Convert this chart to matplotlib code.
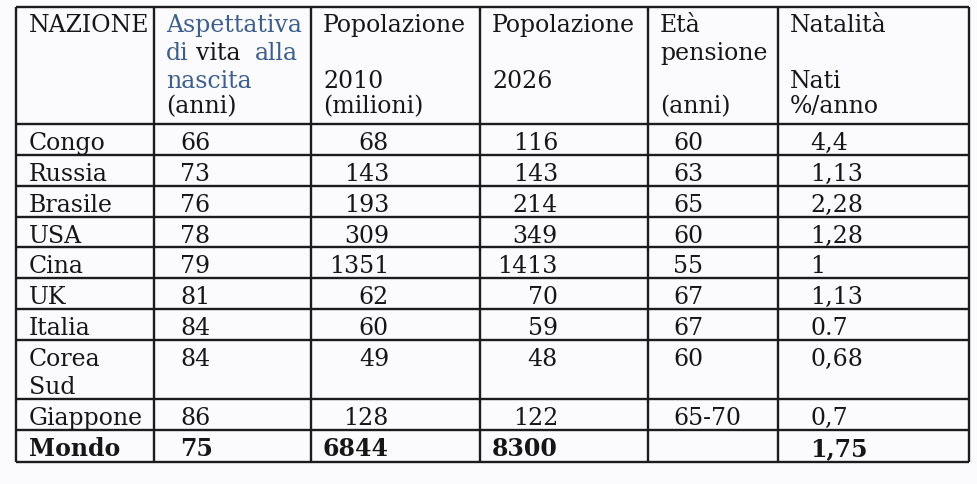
import matplotlib
matplotlib.use("Agg")
from matplotlib import pyplot as plt

# table data
nazioni = ["Congo", "Russia", "Brasile", "USA", "Cina", "UK", "Italia",
           "Corea\nSud", "Giappone", "Mondo"]
aspettativa = [66, 73, 76, 78, 79, 81, 84, 84, 86, 75]
pop_2010 = [68, 143, 193, 309, 1351, 62, 60, 49, 128, 6844]
pop_2026 = [116, 143, 214, 349, 1413, 70, 59, 48, 122, 8300]
eta_pensione = ["60", "63", "65", "60", "55", "67", "67", "60", "65-70", ""]
natalita = ["4,4", "1,13", "2,28", "1,28", "1", "1,13", "0.7", "0,68", "0,7", "1,75"]

header = [
    ["NAZIONE", "", "", ""],
    ["Aspettativa", "", "nascita", "(anni)"],
    ["Popolazione", "", "2010", "(milioni)"],
    ["Popolazione", "", "2026", ""],
    ["Età", "pensione", "", "(anni)"],
    ["Natalità", "", "Nati", "%/anno"],
]

# layout, in pixels from the top left corner
col_edges = [16, 154, 311, 480, 648, 778, 969]
row_edges = [8, 125, 156, 187, 218, 248, 279, 310, 341, 400, 431, 463]
head_x = [29, 166, 323, 492, 660, 790]
head_base = [32, 60, 88, 113]
body_x = [29, 180, 389, 558, 673, 810]
body_ha = ["left", "left", "right", "right", "left", "left"]

BLUE = "#3e5f8a"
INK = "#161616"
FS = 17

plt.rcParams["font.family"] = ["DejaVu Serif"]

fig = plt.figure(figsize=(9.78, 4.85), dpi=100, facecolor="#fbfbfd")
ax = fig.add_axes([0, 0, 1, 1])
ax.set_xlim(0, 978)
ax.set_ylim(485, 0)
ax.axis("off")

# grid
ax.hlines(row_edges, col_edges[0], col_edges[-1], color="#1c1c1c", lw=1.7)
ax.vlines(col_edges, row_edges[0], row_edges[-1], color="#1c1c1c", lw=1.7)

# header
for c, lines in enumerate(header):
    for k, txt in enumerate(lines):
        if not txt:
            continue
        color = BLUE if (c == 1 and k < 3) else INK
        ax.text(head_x[c], head_base[k], txt, fontsize=FS, color=color,
                ha="left", va="baseline")
# mixed colour line in the second column
ax.text(166, head_base[1], "di", fontsize=FS, color=BLUE, va="baseline")
ax.text(196, head_base[1], "vita", fontsize=FS, color=INK, va="baseline")
ax.text(255, head_base[1], "alla", fontsize=FS, color=BLUE, va="baseline")

# body
columns = [nazioni, aspettativa, pop_2010, pop_2026, eta_pensione, natalita]
n = len(nazioni)
for r in range(n):
    top = row_edges[r + 1]
    weight = "bold" if r == n - 1 else "normal"
    for c, col in enumerate(columns):
        for k, line in enumerate(str(col[r]).split("\n")):
            ax.text(body_x[c], top + 25 + 28 * k, line, fontsize=FS,
                    color=INK, ha=body_ha[c], va="baseline",
                    fontweight=weight)

fig.savefig("out.png", dpi=100, facecolor=fig.get_facecolor())
